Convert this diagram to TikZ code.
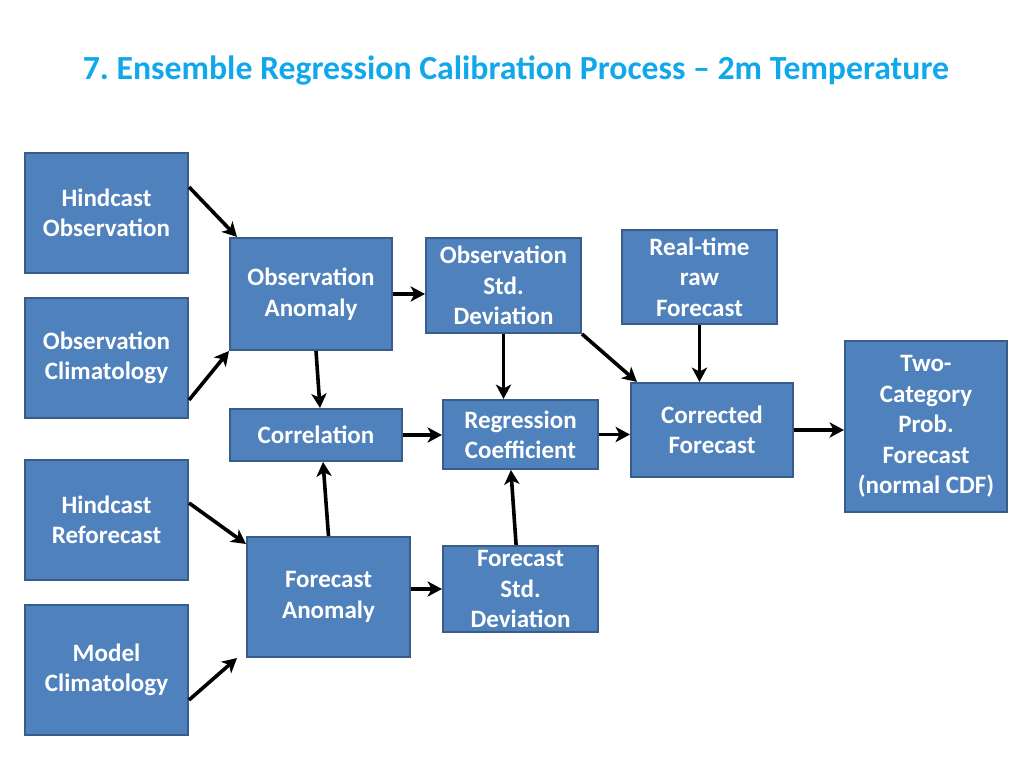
\documentclass[tikz,border=0pt]{standalone}
\usepackage{fontspec}
\setmainfont{Carlito}
\usepackage{tikz}
\usetikzlibrary{arrows.meta,positioning,calc}
\definecolor{blkfill}{HTML}{4F81BD}
\definecolor{blkline}{HTML}{385D8A}
\definecolor{titleblue}{RGB}{17,168,235}
\tikzset{blk/.style={draw=blkline,fill=blkfill,line width=0.5mm,text=white,align=center,inner sep=0pt,
    font=\fontsize{17.8}{21.6}\selectfont\bfseries}}
\tikzset{flow/.style={->,line width=0.9mm}}

\begin{document}
\frenchspacing
\begin{tikzpicture}[x=0.025cm, y=-0.025cm, >={Stealth[length=3.6mm,width=3.8mm,inset=1mm]}]
\useasboundingbox (0,0) rectangle (1024,768);
    \node[text=titleblue,font=\fontsize{24}{28}\selectfont\bfseries] (title) at (516,70) {7. Ensemble Regression Calibration Process -- 2m Temperature};

    \node[blk,minimum width=40.75mm,minimum height=30mm] (hobs) at (106.5,213) {Hindcast\\Observation};
    \node[blk,minimum width=40.75mm,minimum height=30mm] (oclim) at (106.5,358) {Observation\\Climatology};
    \node[blk,minimum width=40.75mm,minimum height=30mm] (hrefc) at (106.5,520) {Hindcast\\Reforecast};
    \node[blk,minimum width=40.75mm,minimum height=32.5mm] (mclim) at (106.5,670) {Model\\Climatology};
    \node[blk,minimum width=40.5mm,minimum height=28mm] (oanom) at (311,294) {Observation\\Anomaly};
    \node[blk,minimum width=43mm,minimum height=13mm] (corr) at (316,435) {Correlation};
    \node[blk,minimum width=40.75mm,minimum height=30mm] (fanom) at (328.5,597) {Forecast\\Anomaly};
    \node[blk,minimum width=38.75mm,minimum height=23.75mm] (ostd) at (503.5,285.5) {Observation\\Std.\\Deviation};
    \node[blk,minimum width=38.75mm,minimum height=17.25mm] (regc) at (520.5,434.5) {Regression\\Coefficient};
    \node[blk,minimum width=38.75mm,minimum height=21.5mm] (fstd) at (520.5,589) {Forecast\\Std.\\Deviation};
    \node[blk,minimum width=38.75mm,minimum height=23.5mm] (rtraw) at (699.5,277) {Real-time\\raw\\Forecast};
    \node[blk,minimum width=40.5mm,minimum height=23.5mm] (corf) at (712,430) {Corrected\\Forecast};
    \node[blk,minimum width=40.5mm,minimum height=42.75mm] (twocat) at (926,426.5) {Two-\\Category\\Prob.\\Forecast\\(normal CDF)};

    \path[flow] ([yshift=6.5mm]hobs.east) edge ([xshift=2mm]oanom.north west);
    \path[flow] ([yshift=-10.5mm]oclim.east) edge (oanom.south west);
    \path[flow] (oanom.east) edge (oanom.east -| ostd.west);
    \path[flow] ([xshift=1.25mm]oanom.south) edge ([xshift=1mm]corr.north);
    \path[flow] ([yshift=4.25mm]hrefc.east) edge ([yshift=-2mm]fanom.north west);
    \path[flow] ([yshift=-7.5mm]mclim.east) edge ([xshift=-2.25mm]fanom.south west);
    \path[flow] (fanom.north) edge ([xshift=1.75mm]corr.south);
    \path[flow] (fstd.west -| fanom.east) edge (fstd.west);
    \path[flow] (corr.east) edge (corr.east -| regc.west);
    \path[flow] ([xshift=-1.1mm]fstd.north) edge ([xshift=-2.4mm]regc.south);
    \path[flow] (ostd.south) edge (ostd.south |- regc.north);
    \path[flow] (ostd.south east) edge ([xshift=1.75mm]corf.north west);
    \path[flow] (rtraw.south) edge (rtraw.south |- corf.north);
    \path[flow] (regc.east) edge (regc.east -| corf.west);
    \path[flow] (corf.east) edge (corf.east -| twocat.west);
\end{tikzpicture}
\end{document}
